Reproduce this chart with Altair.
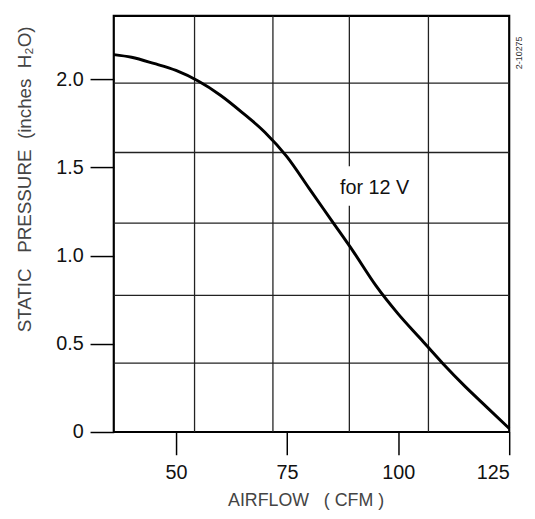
import altair as alt
import pandas as pd

# Fan curve
airflow = [36, 40, 45, 50, 55, 60, 65, 70, 75, 80, 85, 90, 95, 100, 105, 110, 115, 120, 125]
pressure = [2.14, 2.125, 2.09, 2.05, 1.99, 1.91, 1.81, 1.70, 1.56, 1.38, 1.20, 1.02, 0.83, 0.67, 0.53, 0.39, 0.26, 0.14, 0.02]

x_ticks = [50, 75, 100, 125]
y_ticks = [0, 0.5, 1.0, 1.5, 2.0]

# printed background grid (in data units)
grid_x = [54.18, 71.82, 89.02, 89.02, 106.82]
grid_x_from = [0, 0, 0, 1.507, 0]
grid_x_to = [2.36, 2.36, 1.283, 2.36, 2.36]
grid_y = [0.39, 0.775, 1.184, 1.585, 1.978]

note_x = [94.7]
note_y = [1.35]
note_text = ["for 12 V"]

code_x = [127.3]
code_y = [2.15]
code_text = ["2-10275"]

FONT = "Liberation Sans"
NB = "\u00a0"

xscale = alt.Scale(domain=[36, 125], nice=False, zero=False)
yscale = alt.Scale(domain=[0, 2.36], nice=False, zero=False)

xaxis = alt.Axis(
    values=x_ticks, title="AIRFLOW" + NB * 3 + "(" + NB + "CFM" + NB + ")", grid=False, domain=False,
    tickSize=23, tickColor="black", tickWidth=1.5, labelFontSize=20, labelPadding=8,
    labelColor="#111", labelFont=FONT, titleFont=FONT, titleFontSize=18,
    titleFontWeight="normal", titleColor="#444", titleX=194, titleY=74,
    titleBaseline="alphabetic", titleAlign="center",
)
yaxis = alt.Axis(
    values=y_ticks, title="STATIC" + NB * 3 + "PRESSURE" + NB + " (inches" + NB + " H\u2082O)", grid=False, domain=False,
    tickSize=24, tickColor="black", tickWidth=1.5, labelFontSize=20, labelPadding=7,
    labelColor="#111", labelFont=FONT, titleFont=FONT, titleFontSize=19,
    titleFontWeight="normal", titleColor="#444", titleX=-84, titleY=165,
    titleBaseline="alphabetic", titleAlign="center", titleAngle=270,
    labelExpr="datum.value == 0 ? '0' : format(datum.value, '.1f')",
)

curve_df = pd.DataFrame({"x": airflow, "y": pressure})
vgrid_df = pd.DataFrame({"x": grid_x, "y": grid_x_from, "y2": grid_x_to})
hgrid_df = pd.DataFrame({"y": grid_y})
note_df = pd.DataFrame({"x": note_x, "y": note_y, "t": note_text})
code_df = pd.DataFrame({"x": code_x, "y": code_y, "t": code_text})

X = alt.X("x:Q", scale=xscale, axis=xaxis)
Y = alt.Y("y:Q", scale=yscale, axis=yaxis)

vgrid = alt.Chart(vgrid_df).mark_rule(color="#222", strokeWidth=1.3).encode(x=X, y=Y, y2="y2:Q")
hgrid = alt.Chart(hgrid_df).mark_rule(color="#222", strokeWidth=1.3).encode(y=Y)
curve = alt.Chart(curve_df).mark_line(color="black", strokeWidth=3, interpolate="monotone").encode(x=X, y=Y)
note = alt.Chart(note_df).mark_text(
    font=FONT, fontSize=20, color="#111", align="center", baseline="alphabetic"
).encode(x=X, y=Y, text="t:N")
code = alt.Chart(code_df).mark_text(
    font=FONT, fontSize=9, color="#333", align="center", baseline="middle", angle=270
).encode(x=X, y=Y, text="t:N")

chart = alt.layer(vgrid, hgrid, curve, note, code).properties(
    width=400, height=421,
    background="white",
    autosize=alt.AutoSizeParams(type="none"),
    padding={"left": 107, "top": 5, "right": 18, "bottom": 77},
).configure_view(stroke="black", strokeWidth=2.2)

chart.save("out.html", embed_options={"renderer": "svg", "actions": False})
